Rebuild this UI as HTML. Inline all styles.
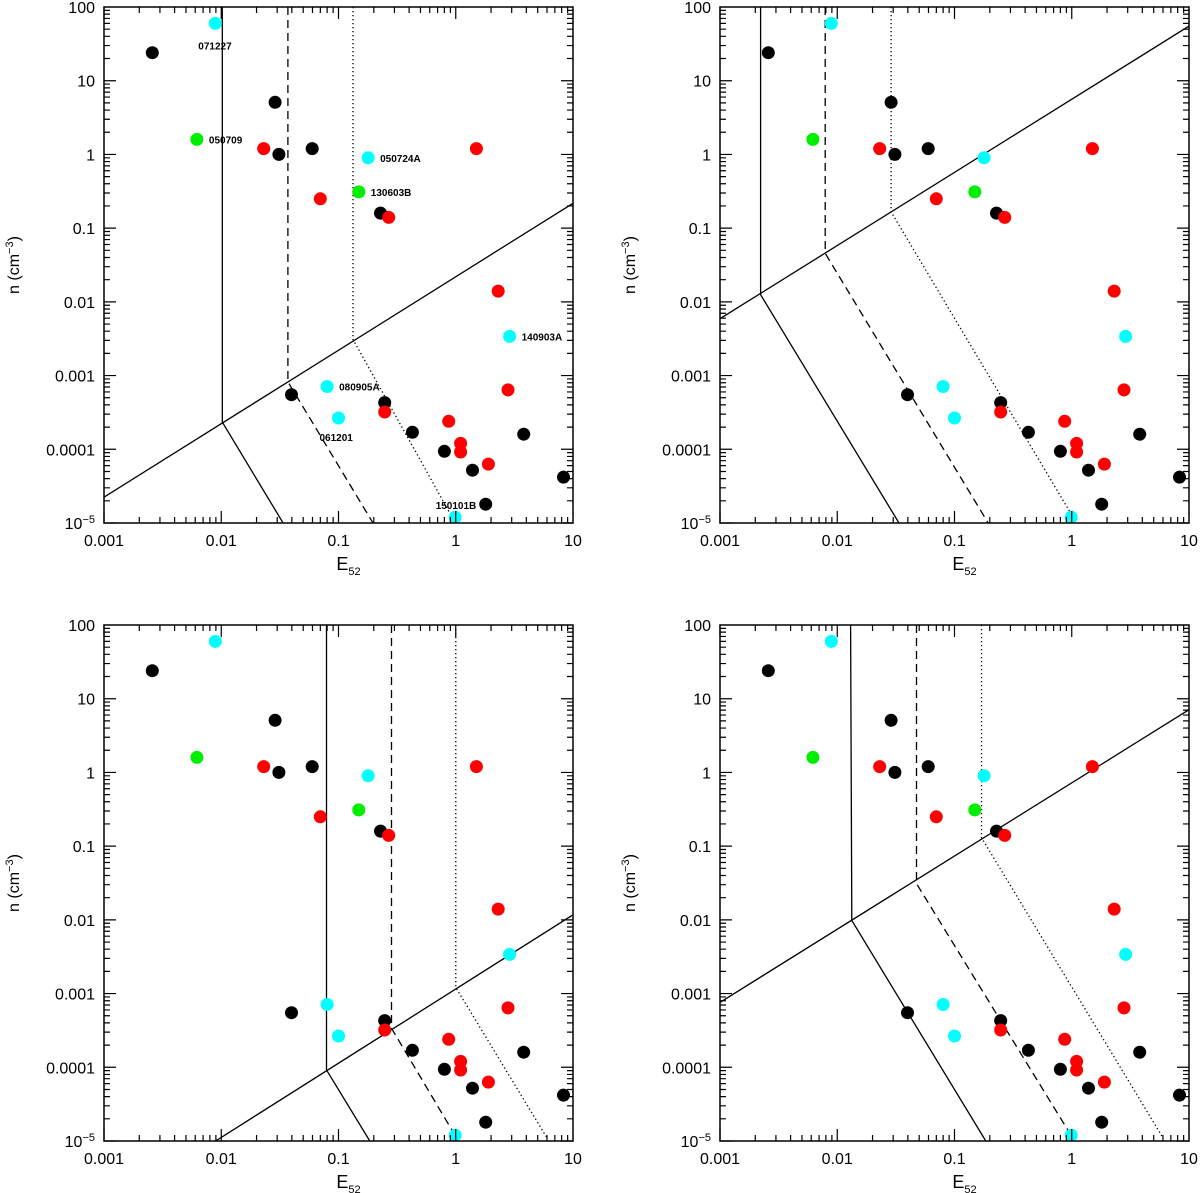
<!DOCTYPE html>
<html><head><meta charset="utf-8"><style>
html,body{margin:0;padding:0;background:#fff;}
svg{display:block;}
text{font-family:"Liberation Sans",sans-serif;fill:#000;}
</style></head><body>
<svg id="chart" width="1200" height="1193" viewBox="0 0 1200 1193" xmlns="http://www.w3.org/2000/svg"></svg>
<script>
// ---- data (shared by all panels) ----
const energies = [0.00258,0.0089,0.0062,0.0288,0.023,0.031,0.0597,0.179,1.5,0.149,0.070,0.228,0.268,2.3,2.88,2.79,0.0397,0.080,0.248,0.248,0.10,0.427,0.87,1.1,1.1,0.80,1.39,1.9,3.8,8.3,1.8,0.99];
const densities = [24,60,1.6,5.1,1.2,1.0,1.2,0.9,1.2,0.31,0.25,0.16,0.14,0.014,0.0034,0.00064,0.00055,0.00071,0.00043,0.00032,0.000266,0.00017,0.00024,0.00012,0.000092,0.000094,0.000052,0.000063,0.00016,0.000042,0.000018,0.000012];
const groups = ["k","c","g","k","r","k","k","c","r","g","r","k","r","r","c","r","k","c","k","r","c","k","r","r","r","k","k","r","k","k","k","c"];
const grbNames = ["","071227","050709","","","","","050724A","","130603B","","","","","140903A","","","080905A","","","061201","","","","","","","","","","150101B",""];
const xTicks = [0.001,0.01,0.1,1,10];
const xTickLabels = ["0.001","0.01","0.1","1","10"];
const yTicks = [100,10,1,0.1,0.01,0.001,0.0001,0.00001];
const yTickLabels = ["100","10","1","0.1","0.01","0.001","0.0001","10^-5"];
// boundary lines per panel: [E, n] points
const p1Diag = [[0.001,2.24e-5],[10,0.217]];
const p1Solid = [[0.0102,100],[0.0102,2.34e-4],[0.0337,1e-5]];
const p1Dash = [[0.037,100],[0.037,8.24e-4],[0.197,1e-5]];
const p1Dot = [[0.133,100],[0.133,3.1e-3],[0.93,1.2e-5]];
const p2Diag = [[0.001,0.0059],[10,55]];
const p2Solid = [[0.00222,100],[0.00222,0.0125],[0.0336,1e-5]];
const p2Dash = [[0.0079,100],[0.0079,0.0456],[0.194,1e-5]];
const p2Dot = [[0.0288,100],[0.0288,0.166],[1.06,1.1e-5]];
const p3Diag = [[0.00895,1e-5],[10,0.0117]];
const p3Solid = [[0.079,100],[0.079,9.2e-5],[0.185,1e-5]];
const p3Dash = [[0.283,100],[0.283,3.38e-4],[0.975,1.23e-5]];
const p3Dot = [[1.0,100],[1.0,1.21e-3],[6.0,1.1e-5]];
const p4Diag = [[0.001,0.00076],[10,7.1]];
const p4Solid = [[0.013,100],[0.0133,0.0098],[0.185,1e-5]];
const p4Dash = [[0.0474,100],[0.0474,0.031],[0.975,1.23e-5]];
const p4Dot = [[0.17,100],[0.17,0.13],[6.0,1.1e-5]];

const colorOf = {k:"#000000",r:"#ff0000",c:"#00ffff",g:"#00ee00"};
const NS="http://www.w3.org/2000/svg";
const svg=document.getElementById('chart');
function mk(tag,attrs,parent){const e=document.createElementNS(NS,tag);for(const k in attrs)e.setAttribute(k,attrs[k]);(parent||svg).appendChild(e);return e;}

const panels=[
 {id:"top-left",x0:104,y0:7,lines:[p1Diag,p1Solid,p1Dash,p1Dot],labels:true},
 {id:"top-right",x0:720,y0:7,lines:[p2Diag,p2Solid,p2Dash,p2Dot],labels:false},
 {id:"bottom-left",x0:104,y0:625,lines:[p3Diag,p3Solid,p3Dash,p3Dot],labels:false},
 {id:"bottom-right",x0:720,y0:625,lines:[p4Diag,p4Solid,p4Dash,p4Dot],labels:false}
];
const W=469,H=516;
const styles=[{d:"none"},{d:"none"},{d:"8,5"},{d:"1.3,2.7"}];
const lineNames=["density-boundary-line","solid-boundary","dashed-boundary","dotted-boundary"];

panels.forEach(p=>{
  const g=mk('g',{});
  
  
  const sx=v=>p.x0+(Math.log10(v)+3)/4*W;
  const sy=v=>p.y0+(2-Math.log10(v))/7*H;
  const cid='clip-'+p.id;
  const cp=mk('clipPath',{id:cid},g);
  mk('rect',{x:p.x0,y:p.y0,width:W,height:H},cp);
  const lg=mk('g',{'clip-path':'url(#'+cid+')'},g);
  p.lines.forEach((pts,i)=>{
    const pl=mk('polyline',{points:pts.map(q=>sx(q[0]).toFixed(1)+','+sy(q[1]).toFixed(1)).join(' '),fill:'none',stroke:'#000','stroke-width':1.3},lg);
    if(styles[i].d!=="none")pl.setAttribute('stroke-dasharray',styles[i].d);
    
    
  });
  energies.forEach((e,i)=>{
    const c=mk('circle',{cx:sx(e).toFixed(1),cy:sy(densities[i]).toFixed(1),r:6.5,fill:colorOf[groups[i]]},g);
    
    
    if(p.labels && grbNames[i]){
      let dx=12,dy=4;
      if(i===1){dx=-17;dy=26;}
      if(i===20){dx=-19;dy=23;}
      if(i===30){dx=-50;dy=5;}
      const t=mk('text',{x:(sx(e)+dx).toFixed(1),y:(sy(densities[i])+dy).toFixed(1),'font-size':10,'font-weight':'bold'},g);
      t.textContent=grbNames[i];
      
      
    }
  });
  const fr=mk('rect',{x:p.x0,y:p.y0,width:W,height:H,fill:'none',stroke:'#000','stroke-width':1.5},g);
  
  
  let d="";
  for(let dec=-3;dec<1;dec++){for(let m=1;m<10;m++){const v=m*Math.pow(10,dec);const x=sx(v);const L=m===1?12:6;
    d+=`M${x},${p.y0+H}v${-L}M${x},${p.y0}v${L}`;}}
  for(let dec=-5;dec<2;dec++){for(let m=1;m<10;m++){const v=m*Math.pow(10,dec);const y=sy(v);const L=m===1?12:6;
    d+=`M${p.x0},${y}h${L}M${p.x0+W},${y}h${-L}`;}}
  const tk=mk('path',{d:d,stroke:'#000','stroke-width':1.2,fill:'none'},g);
  
  
  xTicks.forEach((v,i)=>{
    const t=mk('text',{x:sx(v),y:p.y0+H+23,'font-size':16,'text-anchor':'middle'},g);
    t.textContent=xTickLabels[i];
    
    
  });
  yTicks.forEach((v,i)=>{
    const t=mk('text',{x:p.x0-9,y:sy(v)+6,'font-size':16,'text-anchor':'end'},g);
    if(yTickLabels[i]==="10^-5"){t.innerHTML='10<tspan font-size="11" dy="-6">−5</tspan>';}
    else t.textContent=yTickLabels[i];
    
    
  });
  const xt=mk('text',{x:p.x0+W/2+10,y:p.y0+H+47,'font-size':18,'text-anchor':'middle','font-family':'Liberation Serif, serif'},g);
  xt.innerHTML='E<tspan font-size="11" dy="5">52</tspan>';
  
  
  const yt=mk('text',{transform:`translate(${p.x0-85},${p.y0+H/2}) rotate(-90)`,'font-size':16,'text-anchor':'middle'},g);
  yt.innerHTML='n  (cm<tspan font-size="11" dy="-6">−3</tspan><tspan dy="6">)</tspan>';
  
  
});
</script>
</body></html>
